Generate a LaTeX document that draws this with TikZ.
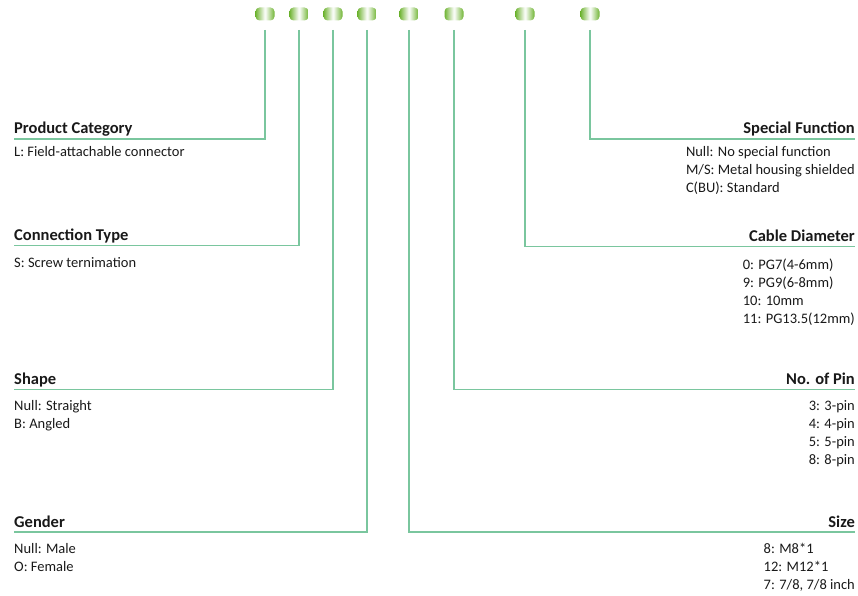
\documentclass[tikz,border=0pt]{standalone}
\usepackage{fontspec}
\setmainfont{Carlito}
\usetikzlibrary{positioning}
\definecolor{leaf}{RGB}{112,180,52}
\definecolor{teal}{RGB}{122,198,158}
\definecolor{ink}{RGB}{25,25,25}

\begin{document}
\begin{tikzpicture}[x=1pt,y=-1pt,
	pill/.style={rounded corners=4pt,minimum width=19pt,minimum height=13pt,inner sep=0pt,
		left color=leaf,right color=leaf,middle color=white},
	wire/.style={draw=teal,line width=1.3pt},
	head/.style={font=\bfseries\fontsize{16.5}{20}\selectfont,text=ink,inner sep=0pt},
	body/.style={font=\fontsize{14.5}{18}\selectfont,text=ink,align=left,inner sep=0pt}]
	\useasboundingbox (0,0) rectangle (858,596);
	\def\top{30}	%upper end of the wires
	\def\ls{18}	%line spacing of the lists (base anchor = last line)

	%CODE PILLS
	\foreach \i/\x in {1/265,2/299,3/333,4/367,5/409,6/454,7/525,8/590}
		\node[pill] (p\i) at (\x,14) {};

	%WIRE ENDS
	\coordinate (catend) at (14,139);
	\coordinate (conend) at (14,245.5);
	\coordinate (shpend) at (14,389.5);
	\coordinate (genend) at (14,532);
	\coordinate (sizend) at (855,532);
	\coordinate (pinend) at (855,389.5);
	\coordinate (diaend) at (855,246.5);
	\coordinate (spcend) at (855,139);

	%WIRES
	\draw[wire] (p1.south |- 0,\top) |- (catend);
	\draw[wire] (p2.south |- 0,\top) |- (conend);
	\draw[wire] (p3.south |- 0,\top) |- (shpend);
	\draw[wire] (p4.south |- 0,\top) |- (genend);
	\draw[wire] (p5.south |- 0,\top) |- (sizend);
	\draw[wire] (p6.south |- 0,\top) |- (pinend);
	\draw[wire] (p7.south |- 0,\top) |- (diaend);
	\draw[wire] (p8.south |- 0,\top) |- (spcend);

	%LEFT LABELS
	\node[head,anchor=base west] (cat) at (14,134) {Product Category};
	\node[body,anchor=base west] (catbody) at (14,156.5) {L: Field-attachable connector};
	%
	\node[head,anchor=base west] (con) at (14,240.5) {Connection Type};
	\node[body,anchor=base west] (conbody) at (14,267) {S: Screw ternimation};
	%
	\node[head,anchor=base west] (shp) at (14,384) {Shape};
	\node[body,anchor=base west] (shpbody) at (14,410+\ls) {Null: Straight\\B: Angled};
	%
	\node[head,anchor=base west] (gen) at (14,527) {Gender};
	\node[body,anchor=base west] (genbody) at (14,553.5+\ls) {Null: Male\\O: Female};

	%RIGHT LABELS
	\node[head,anchor=base east] (spc) at (855,134) {Special Function};
	\node[body,anchor=base east] (spcbody) at (855,156.5+2*\ls) {Null: No special function\\M/S: Metal housing shielded\\C(BU): Standard};
	%
	\node[head,anchor=base east] (dia) at (855,241) {Cable Diameter};
	\node[body,anchor=base east] (diabody) at (855,269+3*\ls) {0: PG7(4-6mm)\\9: PG9(6-8mm)\\10: 10mm\\11: PG13.5(12mm)};
	%
	\node[head,anchor=base east] (pin) at (855,384) {No. of Pin};
	\node[body,anchor=base east] (pinbody) at (855,410.5+3*\ls) {3: 3-pin\\4: 4-pin\\5: 5-pin\\8: 8-pin};
	%
	\node[head,anchor=base east] (siz) at (855,527) {Size};
	\node[body,anchor=base east] (sizbody) at (855,553.5+2*\ls) {8: M8*1\\12: M12*1\\7: 7/8, 7/8 inch};
\end{tikzpicture}
\end{document}
